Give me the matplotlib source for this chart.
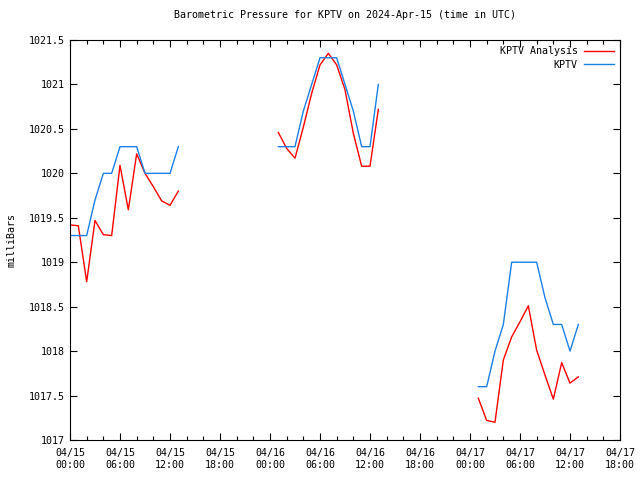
"""
Barometric pressure for KPTV - station obs vs analysis
"""
from datetime import datetime, timedelta
import numpy as np
import matplotlib
matplotlib.use("Agg")
import matplotlib.pyplot as plt
import matplotlib.dates as mdates

START = datetime(2024, 4, 15, 0, 0)

# hours after 2024-04-15 00:00 UTC, three observation chunks
hours_1 = list(range(0, 14))
hours_2 = list(range(25, 38))
hours_3 = list(range(49, 62))

kptv_1 = [1019.3, 1019.3, 1019.3, 1019.7, 1020.0, 1020.0, 1020.3, 1020.3,
          1020.3, 1020.0, 1020.0, 1020.0, 1020.0, 1020.3]
kptv_2 = [1020.3, 1020.3, 1020.3, 1020.7, 1021.0, 1021.3, 1021.3, 1021.3,
          1021.0, 1020.7, 1020.3, 1020.3, 1021.0]
kptv_3 = [1017.6, 1017.6, 1018.0, 1018.3, 1019.0, 1019.0, 1019.0, 1019.0,
          1018.6, 1018.3, 1018.3, 1018.0, 1018.3]

anal_1 = [1019.42, 1019.41, 1018.78, 1019.47, 1019.31, 1019.30, 1020.09,
          1019.59, 1020.22, 1020.00, 1019.85, 1019.69, 1019.64, 1019.80]
anal_2 = [1020.46, 1020.28, 1020.17, 1020.52, 1020.90, 1021.22, 1021.35,
          1021.22, 1020.94, 1020.45, 1020.08, 1020.08, 1020.72]
anal_3 = [1017.47, 1017.22, 1017.20, 1017.90, 1018.16, 1018.33, 1018.51,
          1018.01, 1017.73, 1017.46, 1017.87, 1017.64, 1017.71]


def to_times(hours):
    return [START + timedelta(hours=h) for h in hours]


def stitch(chunks_h, chunks_v):
    """join chunks with NaN gaps so one line object per series"""
    times, vals = [], []
    for h, v in zip(chunks_h, chunks_v):
        times += to_times(h) + [START + timedelta(hours=h[-1] + 0.5)]
        vals += list(v) + [np.nan]
    return times, vals


plt.rcParams['font.family'] = ['DejaVu Sans Mono']
plt.rcParams['font.size'] = 7.2

fig = plt.figure(figsize=(6.4, 4.8), dpi=100)
ax = fig.add_axes([70 / 640, 40 / 480, 550 / 640, 400 / 480])

hs = [hours_1, hours_2, hours_3]
t_a, v_a = stitch(hs, [anal_1, anal_2, anal_3])
t_k, v_k = stitch(hs, [kptv_1, kptv_2, kptv_3])

ax.plot(t_a, v_a, color='#ff0000', lw=1, label='KPTV Analysis')
ax.plot(t_k, v_k, color='#1a80e6', lw=1, label='KPTV')

ax.set_xlim(START, START + timedelta(hours=66))
ax.set_ylim(1017, 1021.5)
ax.set_yticks(np.arange(1017, 1021.51, 0.5))
ax.yaxis.set_major_formatter(plt.FuncFormatter(lambda v, _: f"{v:g}"))

ax.xaxis.set_major_locator(mdates.HourLocator(byhour=range(0, 24, 6)))
ax.xaxis.set_minor_locator(mdates.HourLocator(byhour=range(0, 24, 2)))
ax.xaxis.set_major_formatter(mdates.DateFormatter("%m/%d\n%H:%M"))

ax.tick_params(which='both', direction='in', top=True, right=True,
               width=0.8, labelsize=7.2)
ax.tick_params(which='major', length=5)
ax.tick_params(which='minor', length=3)
ax.tick_params(axis='x', pad=6)
for s in ax.spines.values():
    s.set_linewidth(0.8)

ax.set_title("Barometric Pressure for KPTV on 2024-Apr-15 (time in UTC)",
             fontsize=7.2, pad=16)
ax.set_ylabel("milliBars", fontsize=7.2, labelpad=9)

ax.legend(loc='upper right', frameon=False, markerfirst=False,
          handlelength=3.0, handletextpad=0.6, fontsize=7.2,
          borderaxespad=0.45, borderpad=0.2, labelspacing=0.35)

fig.savefig("out.png", dpi=100)
